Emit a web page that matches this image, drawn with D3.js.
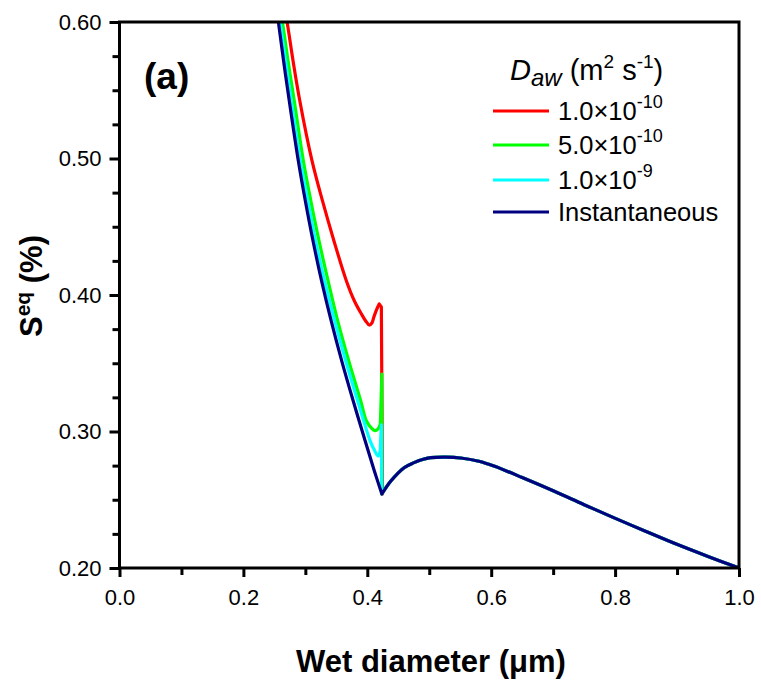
<!DOCTYPE html>
<html>
<head>
<meta charset="utf-8">
<script src="https://cdn.jsdelivr.net/npm/d3@7/dist/d3.min.js"></script>
<style>
  html, body { margin: 0; padding: 0; background: #fff; }
  svg { display: block; font-family: "Liberation Sans", Arial, sans-serif; }
</style>
</head>
<body>
<svg id="chart" width="761" height="683"></svg>
<script>
// Equilibrium supersaturation vs wet diameter for several water diffusivities
const seriesNames = ["1.0×10", "5.0×10", "1.0×10", "Instantaneous"];
const seriesExponents = ["-10", "-10", "-9", ""];
const seriesColors = ["#ff0000", "#00ff00", "#00ffff", "#000080"];

// Branch before the cusp, per series
const redX = [0.2585, 0.2705, 0.2802, 0.2911, 0.3108, 0.3277, 0.3462, 0.3663, 0.3792, 0.3905, 0.3974, 0.4031, 0.4074, 0.4106, 0.4147, 0.4192, 0.4227, 0.4245];
const redY = [0.630, 0.600, 0.5714, 0.5421, 0.4982, 0.4689, 0.4396, 0.4103, 0.3956, 0.3861, 0.3810, 0.3780, 0.3795, 0.3839, 0.3890, 0.3934, 0.3912, 0.2542];

const greenX = [0.2520, 0.2630, 0.2721, 0.2821, 0.2968, 0.3089, 0.3221, 0.3367, 0.3522, 0.3701, 0.3894, 0.3986, 0.4066, 0.4122, 0.4171, 0.4211, 0.4235, 0.4235];
const greenY = [0.630, 0.600, 0.5714, 0.5421, 0.4982, 0.4689, 0.4396, 0.4103, 0.3810, 0.3516, 0.3223, 0.3077, 0.3026, 0.3007, 0.3018, 0.3055, 0.3421, 0.2542];

const cyanX = [0.2496, 0.2593, 0.2681, 0.2773, 0.2919, 0.3040, 0.3164, 0.3310, 0.3473, 0.3652, 0.3845, 0.4047, 0.4122, 0.4175, 0.4208, 0.4227, 0.4235];
const cyanY = [0.630, 0.600, 0.5714, 0.5421, 0.4982, 0.4689, 0.4396, 0.4103, 0.3810, 0.3516, 0.3223, 0.2930, 0.2857, 0.2820, 0.2857, 0.3048, 0.2542];

const navyX = [0.2473, 0.2565, 0.2649, 0.2741, 0.2887, 0.3000, 0.3124, 0.3262, 0.3417, 0.3588, 0.3773, 0.3966, 0.4114, 0.4235];
const navyY = [0.630, 0.600, 0.5714, 0.5421, 0.4982, 0.4689, 0.4396, 0.4103, 0.3810, 0.3516, 0.3223, 0.2930, 0.2711, 0.2542];

// Number of leading points drawn as a smooth curve; the rest are straight jumps
const smoothCounts = [16, 16, 15, 14];

// Common branch after the cusp (all series coincide here)
const tailX = [0.4235, 0.4380, 0.4594, 0.4755, 0.4890, 0.5024, 0.5266, 0.5507, 0.5800, 0.6044, 0.6500, 0.7010, 0.7500, 0.7976, 0.8500, 0.8997, 0.9500, 1.0];
const tailY = [0.2542, 0.2637, 0.2735, 0.2772, 0.2795, 0.2808, 0.2812, 0.2806, 0.2782, 0.2747, 0.2663, 0.2564, 0.2464, 0.2369, 0.2268, 0.2174, 0.2085, 0.2000];

const xMajorTicks = [0, 0.2, 0.4, 0.6, 0.8, 1.0];
const xMinorTicks = [0.1, 0.3, 0.5, 0.7, 0.9];
const yMajorTicks = [0.2, 0.3, 0.4, 0.5, 0.6];
const yMinorTicks = [0.225, 0.25, 0.275, 0.325, 0.35, 0.375, 0.425, 0.45, 0.475, 0.525, 0.55, 0.575];

const svg = d3.select("#chart");
const plot = { left: 119.5, right: 739, top: 22, bottom: 568 };

const x = d3.scaleLinear().domain([0, 1]).range([plot.left, plot.right]);
const y = d3.scaleLinear().domain([0.2, 0.6]).range([plot.bottom, plot.top]);

svg.append("defs").append("clipPath").attr("id", "plotClip")
  .append("rect")
  .attr("x", plot.left).attr("y", plot.top)
  .attr("width", plot.right - plot.left).attr("height", plot.bottom - plot.top);

const zip = (xs, ys) => xs.map((v, i) => [v, ys[i]]);
const seriesPts = [zip(redX, redY), zip(greenX, greenY), zip(cyanX, cyanY), zip(navyX, navyY)];
const tailPts = zip(tailX, tailY);

const smooth = d3.line().x(d => x(d[0])).y(d => y(d[1])).curve(d3.curveCatmullRom.alpha(0.5));
const straight = d3.line().x(d => x(d[0])).y(d => y(d[1]));
const cont = d => d.replace(/^M/, "L");

function seriesPath(pts, nSmooth) {
  const head = smooth(pts.slice(0, nSmooth));
  const jumps = pts.length > nSmooth ? cont(straight(pts.slice(nSmooth - 1))) : "";
  return head + jumps + cont(smooth(tailPts));
}

svg.append("g").attr("clip-path", "url(#plotClip)")
  .selectAll("path").data(seriesPts).join("path")
  .attr("d", (d, i) => seriesPath(d, smoothCounts[i]))
  .attr("fill", "none")
  .attr("stroke", (d, i) => seriesColors[i])
  .attr("stroke-width", 3.2)
  .attr("stroke-linejoin", "round");

// Frame
svg.append("rect")
  .attr("x", plot.left).attr("y", plot.top)
  .attr("width", plot.right - plot.left).attr("height", plot.bottom - plot.top)
  .attr("fill", "none").attr("stroke", "#000").attr("stroke-width", 3);

// Axes
const styleAxis = g => {
  g.select(".domain").remove();
  g.selectAll(".tick line").attr("stroke", "#000").attr("stroke-width", 3);
  g.selectAll(".tick text").attr("fill", "#000").attr("font-size", 22)
    .attr("font-family", "Liberation Sans, Arial, sans-serif");
};

svg.append("g").attr("transform", `translate(0,${plot.bottom})`)
  .call(d3.axisBottom(x).tickValues(xMajorTicks).tickFormat(d3.format(".1f")).tickSize(9).tickPadding(12))
  .call(styleAxis);
svg.append("g").attr("transform", `translate(0,${plot.bottom})`)
  .call(d3.axisBottom(x).tickValues(xMinorTicks).tickFormat("").tickSize(7))
  .call(styleAxis);

svg.append("g").attr("transform", `translate(${plot.left},0)`)
  .call(d3.axisLeft(y).tickValues(yMajorTicks).tickFormat(d3.format(".2f")).tickSize(10).tickPadding(8))
  .call(styleAxis);
svg.append("g").attr("transform", `translate(${plot.left},0)`)
  .call(d3.axisLeft(y).tickValues(yMinorTicks).tickFormat("").tickSize(7))
  .call(styleAxis);

// Axis titles
svg.append("text")
  .attr("x", 431).attr("y", 672)
  .attr("text-anchor", "middle")
  .attr("font-size", 31).attr("font-weight", "bold")
  .text("Wet diameter (\u03bcm)");

const yTitle = svg.append("text")
  .attr("transform", "translate(42,286) rotate(-90)")
  .attr("text-anchor", "middle")
  .attr("font-size", 31).attr("font-weight", "bold");
yTitle.append("tspan").text("S");
yTitle.append("tspan").attr("font-size", 21).attr("dy", -12).text("eq");
yTitle.append("tspan").attr("dy", 12).text(" (%)");

// Panel label
svg.append("text")
  .attr("x", 144).attr("y", 89)
  .attr("font-size", 37).attr("font-weight", "bold")
  .text("(a)");

// Legend
const legend = svg.append("g");
const lt = legend.append("text").attr("x", 510).attr("y", 80).attr("font-size", 29);
lt.append("tspan").attr("font-style", "italic").text("D");
lt.append("tspan").attr("font-style", "italic").attr("font-size", 24).attr("dy", 6).text("aw");
lt.append("tspan").attr("dy", -6).text(" (m");
lt.append("tspan").attr("font-size", 19).attr("dy", -12).text("2");
lt.append("tspan").attr("dy", 12).text(" s");
lt.append("tspan").attr("font-size", 19).attr("dy", -12).text("-1");
lt.append("tspan").attr("dy", 12).text(")");

const legendRowY = [111, 145, 180, 212];
seriesNames.forEach((name, i) => {
  legend.append("line")
    .attr("x1", 493).attr("x2", 549)
    .attr("y1", legendRowY[i]).attr("y2", legendRowY[i])
    .attr("stroke", seriesColors[i]).attr("stroke-width", 3);
  const t = legend.append("text")
    .attr("x", 558).attr("y", legendRowY[i] + 9)
    .attr("font-size", 25.5)
    .text(name);
  if (seriesExponents[i]) {
    t.append("tspan").attr("font-size", 18).attr("dy", -12).text(seriesExponents[i]);
  }
});
</script>
</body>
</html>
